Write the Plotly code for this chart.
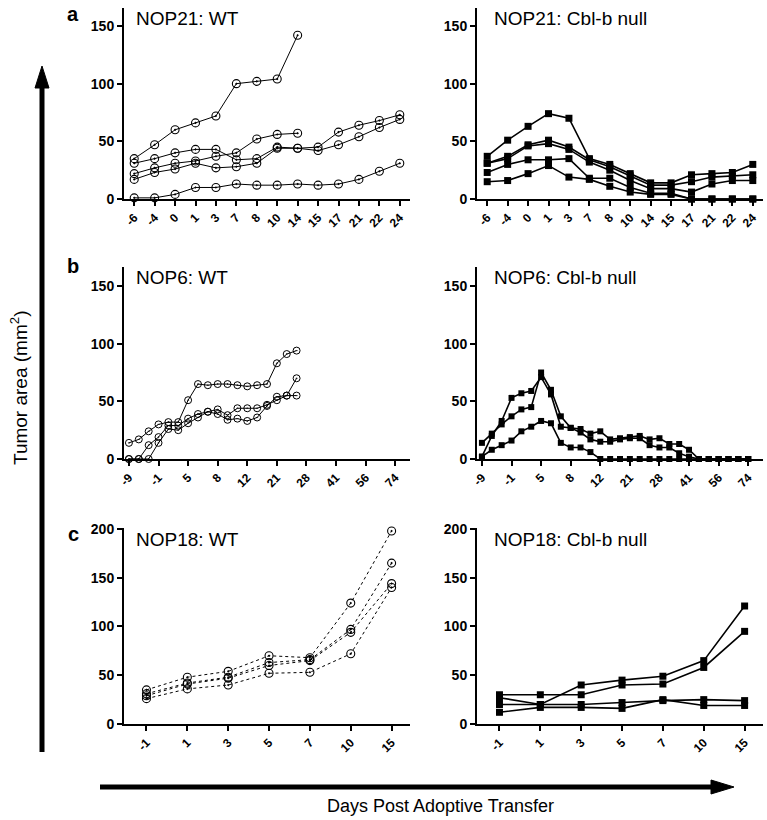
import plotly.graph_objects as go
from plotly.subplots import make_subplots

W, H = 767, 820

# ---------------- DATA ----------------
days_a = ["-6", "-4", "0", "1", "3", "7", "8", "10", "14", "15", "17", "21", "22", "24"]
nop21_wt = [
    [35, 47, 60, 66, 72, 100, 102, 104, 142],
    [31, 35, 40, 43, 43, 34, 35, 45, 44, 45, 58, 64, 68, 73],
    [22, 27, 31, 33, 37, 40, 52, 56, 57],
    [17, 23, 26, 31, 27, 28, 31, 44, 44, 42, 47, 54, 62, 69],
    [1, 1, 4, 10, 10, 13, 12, 12, 13, 12, 13, 17, 24, 31],
]
nop21_cbl = [
    [37, 51, 63, 74, 70, 35, 30, 22, 14, 14, 21, 22, 23, 30],
    [31, 37, 47, 51, 45, 34, 28, 20, 12, 12, 15, 19, 20, 21],
    [31, 35, 46, 48, 43, 32, 25, 16, 9, 9, 6, 13, 16, 16],
    [23, 30, 34, 34, 35, 18, 18, 10, 5, 5, 0, 0, 0, 0],
    [15, 16, 22, 29, 19, 17, 11, 6, 4, 4, 0, 0, 0, 0],
]

days_b = ["-9", "-6", "-3", "-1", "1", "3", "5", "6", "7", "8", "9", "10", "12", "14",
          "17", "21", "23", "25", "28", "32", "36", "41", "46", "51", "56", "62", "68", "74"]
ticks_b = ["-9", "-1", "5", "8", "12", "21", "28", "41", "56", "74"]
nop6_wt = [
    [14, 17, 24, 30, 32, 32, 51, 65, 64, 65, 65, 64, 63, 64, 65, 83, 91, 94],
    [0, 0, 12, 19, 29, 29, 35, 39, 41, 43, 38, 44, 44, 44, 47, 51, 55, 70],
    [0, 0, 0, 14, 26, 25, 31, 36, 41, 39, 34, 35, 33, 36, 46, 54, 55, 55],
]
nop6_cbl = [
    [2, 20, 33, 53, 57, 59, 71, 56, 28, 27, 26, 22, 24, 17, 18, 19, 20, 17, 18, 13, 13, 8, 0, 0, 0, 0, 0, 0],
    [14, 22, 30, 37, 43, 45, 75, 60, 37, 27, 23, 17, 15, 15, 17, 18, 18, 12, 10, 10, 5, 2, 0, 0, 0, 0, 0, 0],
    [2, 8, 12, 16, 24, 28, 33, 31, 14, 10, 10, 6, 0, 0, 0, 0, 0, 0, 0, 0, 0, 0, 0, 0, 0, 0, 0, 0],
]

days_c = ["-1", "1", "3", "5", "7", "10", "15"]
nop18_wt = [
    [35, 48, 54, 70, 68, 124, 198],
    [31, 42, 48, 63, 66, 97, 165],
    [29, 41, 47, 60, 65, 94, 144],
    [26, 36, 40, 52, 53, 72, 140],
]
nop18_cbl = [
    [27, 20, 40, 45, 49, 65, 121],
    [30, 30, 30, 40, 41, 58, 95],
    [20, 20, 20, 22, 24, 25, 24],
    [12, 17, 17, 16, 25, 19, 19],
]

titles = ["NOP21: WT", "NOP21: Cbl-b null", "NOP6: WT", "NOP6: Cbl-b null",
          "NOP18: WT", "NOP18: Cbl-b null"]
letters = ["a", "b", "c"]

# ---------------- FIGURE ----------------
FONT = "Liberation Sans, Arial, Helvetica, sans-serif"
fig = make_subplots(rows=3, cols=2)

def px_x(x):
    return x / W

def px_y(y):
    return 1 - y / H

xdom = [[px_x(124), px_x(410)], [px_x(477), px_x(763)]]
ydom = [[px_y(199), px_y(8)], [px_y(459), px_y(267)], [px_y(724), px_y(528)]]

wt_marker = dict(symbol="circle-open-dot", size=8, color="black", line=dict(width=1.1, color="black"))
cb_marker = dict(symbol="square", size=7, color="black", line=dict(width=0))

panels = [
    (1, 1, days_a, nop21_wt, "wt", "solid"),
    (1, 2, days_a, nop21_cbl, "cb", "solid"),
    (2, 1, days_b, nop6_wt, "wt", "solid"),
    (2, 2, days_b, nop6_cbl, "cb", "solid"),
    (3, 1, days_c, nop18_wt, "wt", "dot"),
    (3, 2, days_c, nop18_cbl, "cb", "solid"),
]

for (r, c, days, series, kind, dash) in panels:
    for s in series:
        if kind == "wt":
            m = dict(wt_marker)
            if r == 2:
                m = dict(symbol="circle-open-dot", size=7, color="black", line=dict(width=1.0, color="black"))
            lw = 1.0
        else:
            m = dict(cb_marker)
            if r == 2:
                m = dict(symbol="square", size=6, color="black")
            lw = 1.6
        fig.add_trace(go.Scatter(x=days[:len(s)], y=s, mode="lines+markers",
                                 line=dict(color="black", width=lw, dash=dash),
                                 marker=m, showlegend=False, cliponaxis=False),
                      row=r, col=c)

xranges = {1: [-0.5, 13.5], 2: [-0.5, 28.5], 3: [-0.55, 6.45]}
yranges = {1: [0, 165.6], 2: [0, 166.5], 3: [0, 201]}
yticks = {1: [0, 50, 100, 150], 2: [0, 50, 100, 150], 3: [0, 50, 100, 150, 200]}
xcats = {1: days_a, 2: days_b, 3: days_c}
xtickvals = {1: days_a, 2: ticks_b, 3: days_c}

for r in (1, 2, 3):
    for c in (1, 2):
        fig.update_xaxes(row=r, col=c, type="category", categoryorder="array",
                         categoryarray=xcats[r], tickmode="array", tickvals=xtickvals[r],
                         ticktext=xtickvals[r], range=xranges[r], domain=xdom[c - 1],
                         automargin=False,
                         showline=True, linecolor="black", linewidth=2, ticks="outside",
                         ticklen=5, tickwidth=2, tickcolor="black", tickangle=-45,
                         tickfont=dict(family=FONT, size=12, color="black", weight="bold"),
                         showgrid=False, zeroline=False)
        fig.update_yaxes(row=r, col=c, range=yranges[r], domain=ydom[r - 1],
                         tickmode="array", tickvals=yticks[r], automargin=False,
                         showline=True, linecolor="black", linewidth=2, ticks="outside",
                         ticklen=5, tickwidth=2, tickcolor="black",
                         tickfont=dict(family=FONT, size=14, color="black", weight="bold"),
                         showgrid=False, zeroline=False)

# panel titles
title_y = [18, 277, 539]
for i, t in enumerate(titles):
    r = i // 2
    c = i % 2
    x0 = 134 if c == 0 else 492
    fig.add_annotation(text=t, xref="paper", yref="paper", x=px_x(x0), y=px_y(title_y[r]),
                       xanchor="left", yanchor="middle", showarrow=False,
                       font=dict(family=FONT, size=19, color="black"))

letter_y = [14, 266, 534]
for i, l in enumerate(letters):
    fig.add_annotation(text="<b>%s</b>" % l, xref="paper", yref="paper", x=px_x(73),
                       y=px_y(letter_y[i]), xanchor="center", yanchor="middle", showarrow=False,
                       font=dict(family=FONT, size=20, color="black"))

# axis titles
fig.add_annotation(text="Tumor area (mm<sup>2</sup>)", xref="paper", yref="paper",
                   x=px_x(19), y=px_y(388), textangle=-90, showarrow=False,
                   xanchor="center", yanchor="middle",
                   font=dict(family=FONT, size=19, color="black"))
fig.add_annotation(text="Days Post Adoptive Transfer", xref="paper", yref="paper",
                   x=px_x(440), y=px_y(806), showarrow=False,
                   xanchor="center", yanchor="middle",
                   font=dict(family=FONT, size=18, color="black"))

# big arrows
fig.add_shape(type="line", xref="paper", yref="paper", x0=px_x(42), x1=px_x(42),
              y0=px_y(752), y1=px_y(84), line=dict(color="black", width=5))
fig.add_shape(type="path", xref="paper", yref="paper",
              path="M {} {} L {} {} L {} {} Z".format(px_x(42), px_y(66), px_x(35), px_y(88), px_x(49), px_y(88)),
              fillcolor="black", line=dict(color="black", width=1))
fig.add_shape(type="line", xref="paper", yref="paper", x0=px_x(100), x1=px_x(714),
              y0=px_y(787), y1=px_y(787), line=dict(color="black", width=5))
fig.add_shape(type="path", xref="paper", yref="paper",
              path="M {} {} L {} {} L {} {} Z".format(px_x(734), px_y(787), px_x(711), px_y(780), px_x(711), px_y(794)),
              fillcolor="black", line=dict(color="black", width=1))

fig.update_layout(width=W, height=H, margin=dict(l=0, r=0, t=0, b=0),
                  paper_bgcolor="white", plot_bgcolor="white",
                  font=dict(family=FONT, color="black"))

# remove the page's default body margin so the figure sits at the window's corner
fig.write_html("out.html", config={"displayModeBar": False},
               post_script="document.body.style.margin='0px';")
